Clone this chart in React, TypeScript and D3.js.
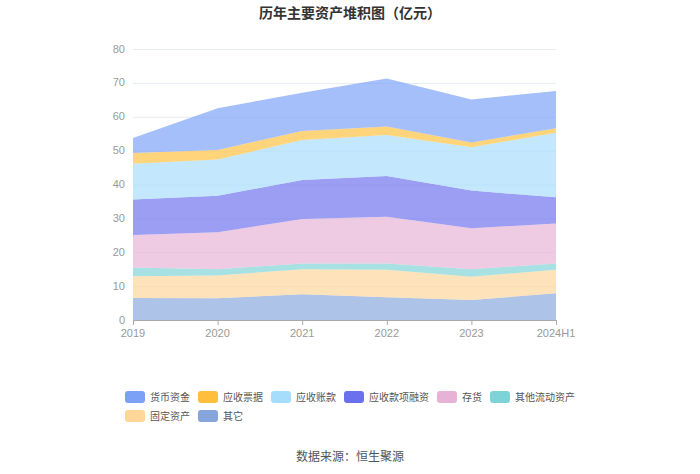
import React, { useEffect, useRef } from 'react';
import * as d3 from 'd3';

const years = ['2019', '2020', '2021', '2022', '2023', '2024H1'];

// 每个系列的值（亿元）
const huobi = [4.4, 12.3, 11.3, 14.2, 12.7, 11.0];
const piaoju = [3.2, 2.8, 2.7, 2.5, 1.4, 1.3];
const zhangkuan = [10.5, 10.7, 11.8, 12.1, 12.8, 19.1];
const rongzi = [10.5, 10.8, 11.5, 12.0, 11.1, 7.7];
const cunhuo = [9.6, 10.9, 13.1, 13.8, 12.1, 11.8];
const qitaLiudong = [2.6, 1.9, 1.7, 1.9, 2.2, 1.9];
const guding = [6.4, 6.7, 7.4, 8.1, 6.9, 6.9];
const qita = [6.5, 6.4, 7.6, 6.7, 5.9, 7.9];

const seriesNames = ['货币资金', '应收票据', '应收账款', '应收款项融资', '存货', '其他流动资产', '固定资产', '其它'];
const seriesValues = [huobi, piaoju, zhangkuan, rongzi, cunhuo, qitaLiudong, guding, qita];
const colors = ['#7ba1f7', '#ffbf3c', '#a6ddfc', '#6b70ee', '#e6b3d6', '#7dd3d6', '#fed69a', '#86a6db'];

const yTicks = [0, 10, 20, 30, 40, 50, 60, 70, 80];

const W = 700;
const H = 474;

const App = () => {
  const ref = useRef<SVGSVGElement>(null);

  useEffect(() => {
    const svg = d3.select(ref.current);
    svg.selectAll('*').remove();

    const left = 133;
    const right = 556;
    const top = 49;
    const bottom = 320;

    const x = d3.scalePoint().domain(years).range([left, right]);
    const y = d3.scaleLinear().domain([0, 80]).range([bottom, top]);

    // 表格：每年一行
    const rows = years.map((yr, i) => {
      const r: any = { year: yr };
      seriesNames.forEach((n, k) => (r[n] = seriesValues[k][i]));
      return r;
    });

    // 从下往上堆：其它 -> 货币资金
    const order = seriesNames.slice().reverse();
    const stacked = d3.stack().keys(order)(rows);

    // 标题和来源
    svg.append('text')
      .attr('x', W / 2)
      .attr('y', 18)
      .attr('text-anchor', 'middle')
      .attr('font-size', 14)
      .attr('font-weight', 'bold')
      .attr('fill', '#333')
      .text('历年主要资产堆积图（亿元）');
    svg.append('text')
      .attr('x', W / 2)
      .attr('y', 461)
      .attr('text-anchor', 'middle')
      .attr('font-size', 12)
      .attr('fill', '#555')
      .text('数据来源：恒生聚源');

    // 网格线
    svg.append('g')
      .selectAll('line')
      .data(yTicks.slice(1))
      .enter()
      .append('line')
      .attr('x1', left)
      .attr('x2', right)
      .attr('y1', d => y(d) + 0.5)
      .attr('y2', d => y(d) + 0.5)
      .attr('stroke', '#e6ebf3')
      .attr('stroke-width', 1);

    const area = d3.area<any>()
      .x(d => x(d.data.year) as number)
      .y0(d => y(d[0]))
      .y1(d => y(d[1]));

    svg.append('g')
      .selectAll('path')
      .data(stacked)
      .enter()
      .append('path')
      .attr('d', area)
      .attr('fill', d => colors[seriesNames.indexOf(d.key)])
      .attr('fill-opacity', 0.68);

    const tickFont = '"Liberation Sans", Arial, sans-serif';

    // y轴标签
    svg.append('g')
      .selectAll('text')
      .data(yTicks)
      .enter()
      .append('text')
      .attr('x', left - 8)
      .attr('y', d => y(d))
      .attr('dy', '0.32em')
      .attr('text-anchor', 'end')
      .attr('font-family', tickFont)
      .attr('font-size', 11)
      .attr('fill', '#999')
      .text(d => d);

    // x轴
    svg.append('line')
      .attr('x1', left)
      .attr('x2', right)
      .attr('y1', bottom + 0.5)
      .attr('y2', bottom + 0.5)
      .attr('stroke', '#aaa');

    const xg = svg.append('g');
    xg.selectAll('line')
      .data(years)
      .enter()
      .append('line')
      .attr('x1', d => (x(d) as number) + 0.5)
      .attr('x2', d => (x(d) as number) + 0.5)
      .attr('y1', bottom)
      .attr('y2', bottom + 5)
      .attr('stroke', '#aaa');
    xg.selectAll('text')
      .data(years)
      .enter()
      .append('text')
      .attr('x', d => x(d) as number)
      .attr('y', bottom + 16.5)
      .attr('text-anchor', 'middle')
      .attr('font-family', tickFont)
      .attr('font-size', 11)
      .attr('fill', '#999')
      .text(d => d);

    // 图例
    const fontSize = 10;
    const boxW = 20;
    const gap = 8;
    const perRow = 6;
    const itemW = (n: string) => boxW + 5 + n.length * fontSize;
    const firstRow = seriesNames.slice(0, perRow);
    const rowWidth = d3.sum(firstRow, n => itemW(n)) + gap * (perRow - 1);
    const legendLeft = (W - rowWidth) / 2;

    const lg = svg.append('g');
    let cx = legendLeft;
    seriesNames.forEach((n, i) => {
      if (i === perRow) cx = legendLeft;
      const row = i < perRow ? 0 : 1;
      const cy = 397 + row * 19;
      lg.append('rect')
        .attr('x', cx)
        .attr('y', cy - 6)
        .attr('width', boxW)
        .attr('height', 12)
        .attr('rx', 3)
        .attr('fill', colors[i]);
      lg.append('text')
        .attr('x', cx + boxW + 5)
        .attr('y', cy)
        .attr('dy', '0.35em')
        .attr('font-size', fontSize)
        .attr('fill', '#555')
        .text(n);
      cx += itemW(n) + gap;
    });
  }, []);

  return (
    <svg
      ref={ref}
      width={W}
      height={H}
      style={{ position: 'absolute', left: 0, top: 0, fontFamily: '"Noto Sans CJK SC", "Noto Sans", sans-serif', background: '#fff' }}
    />
  );
};

export default App;
